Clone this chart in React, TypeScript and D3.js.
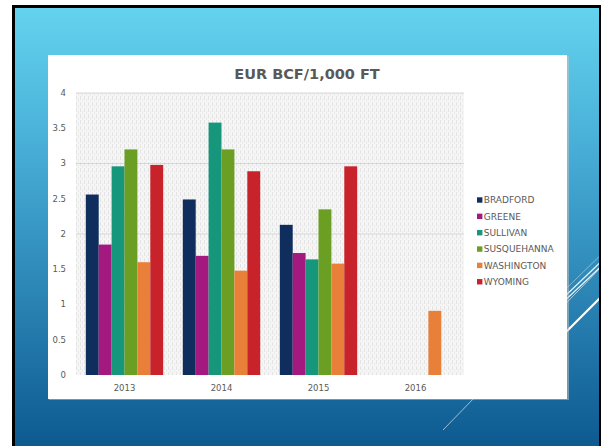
import React from "react";
import * as d3 from "d3";

// chart data
const years = ["2013", "2014", "2015", "2016"];
const counties = ["BRADFORD", "GREENE", "SULLIVAN", "SUSQUEHANNA", "WASHINGTON", "WYOMING"];
const bradford = [2.56, 2.49, 2.13, null];
const greene = [1.85, 1.69, 1.73, null];
const sullivan = [2.96, 3.58, 1.64, null];
const susquehanna = [3.2, 3.2, 2.35, null];
const washington = [1.6, 1.48, 1.58, 0.91];
const wyoming = [2.98, 2.89, 2.96, null];
const yTicks = [0, 0.5, 1, 1.5, 2, 2.5, 3, 3.5, 4];
const gridTicks = [2, 3, 4];

const seriesValues = [bradford, greene, sullivan, susquehanna, washington, wyoming];
const colors = ["#0f2e5d", "#a3197f", "#16977b", "#6b9f23", "#e9803a", "#c8232a"];

const W = 602;
const H = 446;
const plot = { left: 76, right: 464, top: 93, bottom: 375 };
const font = "'DejaVu Sans', sans-serif";
const textColor = "#595959";

export default function App() {
  const x0 = d3.scaleBand().domain(years).range([plot.left, plot.right]).padding(0);
  const x1 = d3
    .scaleBand()
    .domain(counties)
    .range([0, x0.bandwidth()])
    .paddingInner(0)
    .paddingOuter(0.76);
  const y = d3.scaleLinear().domain([0, 4]).range([plot.bottom, plot.top]);

  // white decorative strokes on the right of the slide
  const deco = [
    { x1: 443, y1: 430, x2: 610, y2: 258, w: 0.8, o: 0.75 },
    { x1: 540, y1: 358, x2: 610, y2: 288, w: 2, o: 1 },
    { x1: 540, y1: 324, x2: 610, y2: 258, w: 1.3, o: 0.9 },
    { x1: 540, y1: 320, x2: 610, y2: 253, w: 1.3, o: 0.9 },
    { x1: 540, y1: 314, x2: 610, y2: 246, w: 0.8, o: 0.5 },
  ];

  return (
    <svg
      width={W}
      height={H}
      style={{ position: "absolute", left: 0, top: 0, background: "#fff" }}
    >
      <defs>
        <linearGradient id="bg" x1="0" y1="0" x2="0" y2="1">
          <stop offset="0%" stopColor="#64d3ef" />
          <stop offset="35%" stopColor="#45aad4" />
          <stop offset="100%" stopColor="#0d5a91" />
        </linearGradient>
        <pattern id="hatch" width="4" height="6" patternUnits="userSpaceOnUse">
          <rect width="4" height="6" fill="#f6f6f6" />
          <rect x="0" y="0" width="1" height="4" fill="#e4e4e4" />
          <rect x="2" y="3" width="1" height="3" fill="#ebebeb" />
        </pattern>
        <clipPath id="slide">
          <rect x={15} y={8} width={584} height={H - 8} />
        </clipPath>
      </defs>

      {/* slide frame */}
      <rect x={12} y={5} width={589} height={H - 5} fill="#000" />
      <rect x={15} y={8} width={584} height={H - 8} fill="url(#bg)" />
      <g clipPath="url(#slide)">
        {deco.map((d, i) => (
          <line
            key={i}
            x1={d.x1}
            y1={d.y1}
            x2={d.x2}
            y2={d.y2}
            stroke="#fff"
            strokeWidth={d.w}
            opacity={d.o}
          />
        ))}
      </g>

      {/* chart card */}
      <rect x={49} y={56} width={520} height={344} fill="#c8c8c8" opacity={0.5} />
      <rect x={48} y={55} width={519} height={344} fill="#fff" />

      <text
        x={307}
        y={79}
        textAnchor="middle"
        fontFamily={font}
        fontWeight="bold"
        fontSize={14.5}
        fill={textColor}
      >
        EUR BCF/1,000 FT
      </text>

      {/* plot area */}
      <rect
        x={plot.left}
        y={plot.top}
        width={plot.right - plot.left}
        height={plot.bottom - plot.top}
        fill="url(#hatch)"
      />
      {gridTicks.map((t) => (
        <line
          key={t}
          x1={plot.left}
          x2={plot.right}
          y1={y(t)}
          y2={y(t)}
          stroke="#d6d6d6"
          strokeWidth={1}
        />
      ))}

      {yTicks.map((t) => (
        <text
          key={t}
          x={66}
          y={y(t)}
          dy="0.35em"
          textAnchor="end"
          fontFamily={font}
          fontSize={8.5}
          fill={textColor}
        >
          {t}
        </text>
      ))}

      {years.map((yr, i) => (
        <g key={yr} transform={`translate(${x0(yr)},0)`}>
          {counties.map((c, j) => {
            const v = seriesValues[j][i];
            if (v == null) return null;
            return (
              <rect
                key={c}
                x={x1(c)}
                y={y(v)}
                width={x1.bandwidth()}
                height={y(0) - y(v)}
                fill={colors[j]}
              />
            );
          })}
          <text
            x={x0.bandwidth() / 2}
            y={388}
            dy="0.35em"
            textAnchor="middle"
            fontFamily={font}
            fontSize={8.5}
            fill={textColor}
          >
            {yr}
          </text>
        </g>
      ))}

      {/* legend */}
      {counties.map((c, j) => (
        <g key={c} transform={`translate(477,${200 + j * 16.35})`}>
          <rect x={0} y={-2.7} width={5.4} height={5.4} fill={colors[j]} />
          <text
            x={6.8}
            y={0}
            dy="0.35em"
            fontFamily={font}
            fontSize={9}
            fill={textColor}
          >
            {c}
          </text>
        </g>
      ))}
    </svg>
  );
}
